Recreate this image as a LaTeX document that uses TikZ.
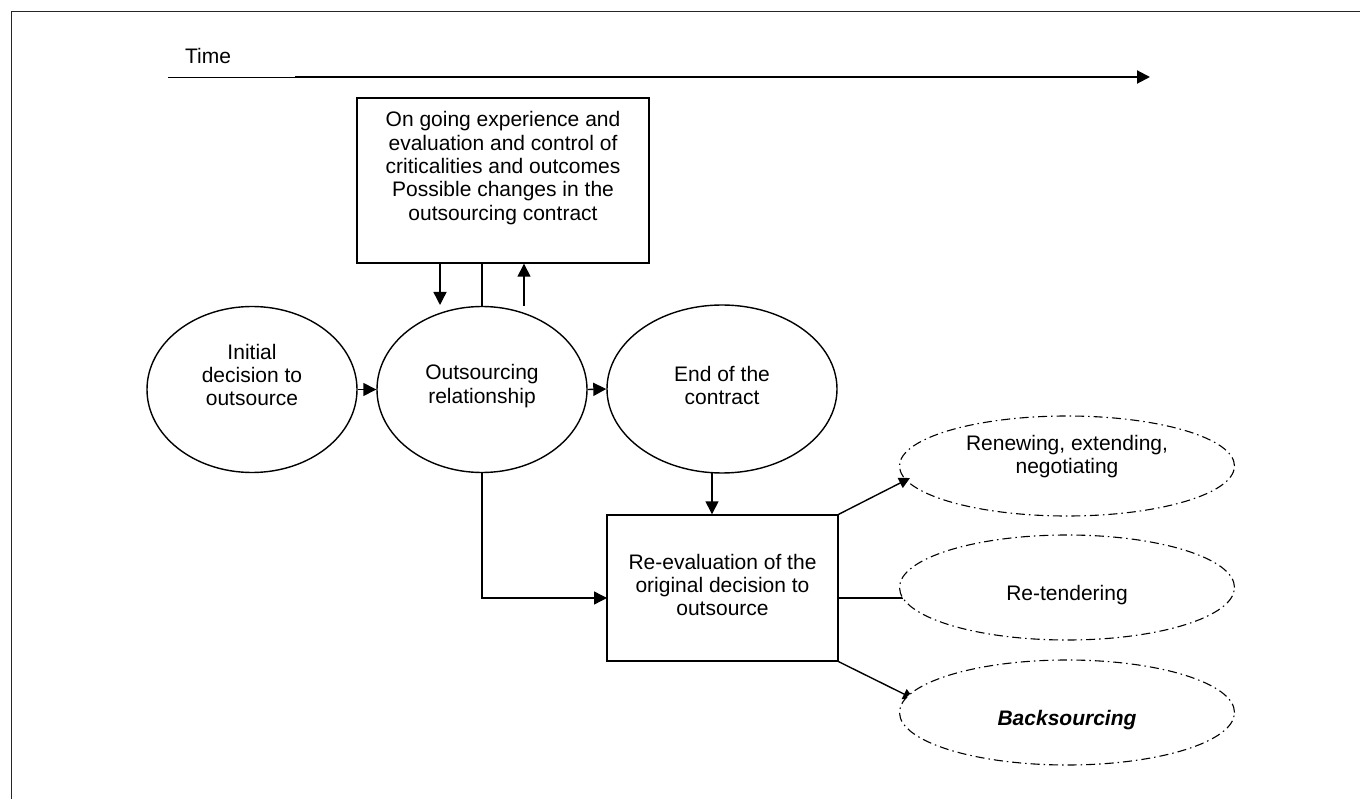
\documentclass[tikz,border=0pt]{standalone}
\usepackage{fontspec}
\setmainfont{Liberation Sans}
\usetikzlibrary{shapes.geometric,arrows.meta,calc}
\begin{document}
\begin{tikzpicture}[x=1pt,y=-1pt,
  txt/.style={align=center,font=\fontsize{21}{23.4}\selectfont,inner sep=0pt},
  ell/.style={draw,ellipse,line width=1.4pt,inner sep=0pt},
  dell/.style={draw,ellipse,line width=1.1pt,inner sep=0pt,fill=white,
    dash pattern=on 9pt off 4pt on 1.5pt off 4pt},
  boxx/.style={draw,rectangle,line width=1.4pt,inner sep=0pt},
  con/.style={line width=1.4pt},
  arr/.style={line width=1.4pt,-{Triangle[length=13pt,width=13pt]}},
  sarr/.style={line width=1.4pt,-{Triangle[length=11pt,width=11pt]}}]
\useasboundingbox (0,0) rectangle (1360,799);
% frame
\coordinate (fa) at (11.5,799);
\coordinate (fb) at (11.5,11.5);
\coordinate (fc) at (1360,11.5);
\draw[line width=1.8pt,black!85] (fa) -- (fb) -- (fc);
% time axis
\node[txt] (time) at (208,56) {Time};
\coordinate (t0) at (168,77);
\coordinate (t1) at (295,77);
\coordinate (t2) at (1150,77);
\draw[line width=0.8pt] (t0) -- (t1);
\draw[line width=2pt,-{Triangle[length=13pt,width=13pt]}] (t1) -- (t2);
% top box
\node[boxx,minimum width=292pt,minimum height=165pt] (box1) at (503,180.5) {};
\node[txt] (box1t) at (503,168) {On going experience and\\evaluation and control of\\criticalities and outcomes\\Possible changes in the\\outsourcing contract};
% ellipses
\node[ell,minimum width=210pt,minimum height=166pt] (init) at (252,389.5) {};
\node[txt] (initt) at (252,375) {Initial\\decision to\\outsource};
\node[ell,minimum width=210pt,minimum height=166pt] (rel) at (482,389.5) {};
\node[txt] (relt) at (482,386) {Outsourcing\\relationship};
\node[ell,minimum width=230pt,minimum height=168pt] (end) at (722,389) {};
\node[txt] (endt) at (722,385.5) {End of the\\contract};
% box 2
\node[boxx,minimum width=231pt,minimum height=146pt] (box2) at (722.5,588) {};
\node[txt] (box2t) at (722.5,585) {Re-evaluation of the\\original decision to\\outsource};
% connectors box1 <-> rel
\coordinate (d1) at (440,305);
\draw[arr] (d1 |- box1.south) -- (d1);
\draw[con] (rel.north |- box1.south) -- (rel.north);
\coordinate (u1) at (524,306);
\draw[arr] (u1) -- (u1 |- box1.south);
% chain
\draw[arr] (init.east) -- (rel.west);
\draw[arr] (rel.east) -- (end.west);
\coordinate (ea) at (712,473);
\draw[arr] (ea) -- (ea |- box2.north);
\coordinate (b2in) at (607,598);
\draw[arr] (rel.south) |- (b2in);
% outcome connectors
\coordinate (o1) at (910,478);
\coordinate (b2m) at (838,598);
\coordinate (o2) at (903,598);
\coordinate (o3) at (914,699);
\draw[sarr] (box2.south east) -- (o3);
\draw[con] (b2m) -- (o2);
% dashed ellipses
\node[dell,minimum width=335pt,minimum height=100pt] (renew) at (1067,466) {};
\node[txt] (renewt) at (1067,456.5) {Renewing, extending,\\negotiating};
\node[dell,minimum width=335pt,minimum height=105pt] (retend) at (1067,587.5) {};
\node[txt] (retendt) at (1067,595) {Re-tendering};
\node[dell,minimum width=335pt,minimum height=105pt] (back) at (1067,712.5) {};
\node[txt] (backt) at (1067,720) {\textbf{\textit{Backsourcing}}};
\draw[sarr] (box2.north east) -- (o1);
\end{tikzpicture}
\end{document}
